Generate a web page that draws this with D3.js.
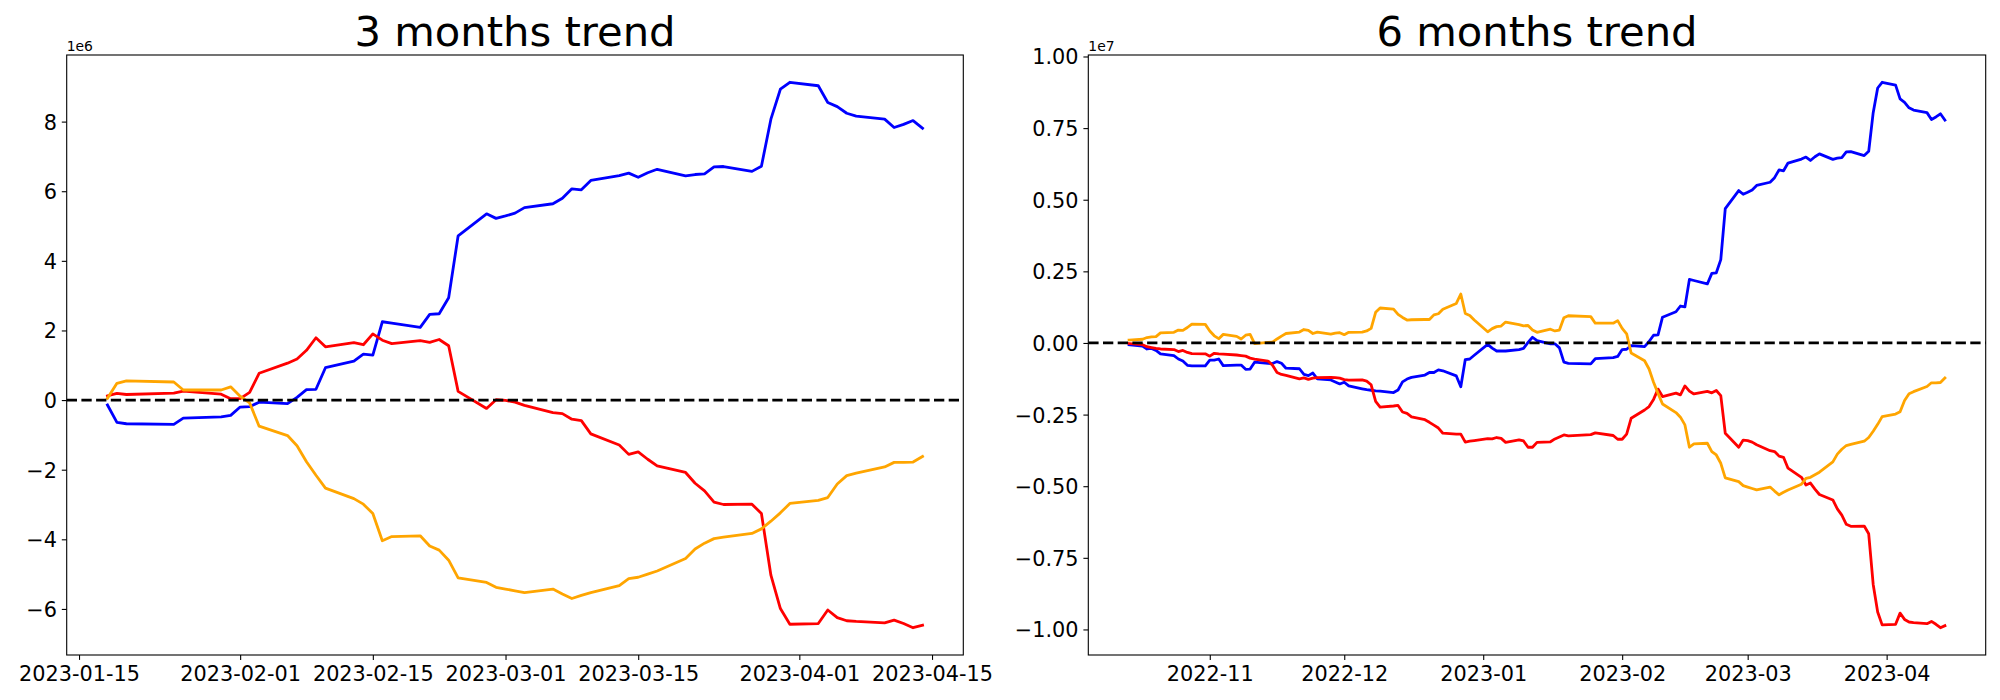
<!DOCTYPE html>
<html>
<head>
<meta charset="utf-8">
<script src="https://cdn.jsdelivr.net/npm/d3@7"></script>
<style>
body { margin: 0; background: #fff; }
text { font-family: "DejaVu Sans", sans-serif; fill: #000; }
</style>
</head>
<body>
<script>
// cumulative values, in millions

// 3 months panel
var leftDates = ['2023-01-18', '2023-01-19', '2023-01-20', '2023-01-25', '2023-01-26',
  '2023-01-30', '2023-01-31', '2023-02-01', '2023-02-02', '2023-02-03',
  '2023-02-06', '2023-02-07', '2023-02-08', '2023-02-09', '2023-02-10',
  '2023-02-13', '2023-02-14', '2023-02-15', '2023-02-16', '2023-02-17',
  '2023-02-20', '2023-02-21', '2023-02-22', '2023-02-23', '2023-02-24',
  '2023-02-27', '2023-02-28', '2023-03-01', '2023-03-02', '2023-03-03',
  '2023-03-06', '2023-03-07', '2023-03-08', '2023-03-09', '2023-03-10',
  '2023-03-13', '2023-03-14', '2023-03-15', '2023-03-16', '2023-03-17',
  '2023-03-20', '2023-03-21', '2023-03-22', '2023-03-23', '2023-03-24',
  '2023-03-27', '2023-03-28', '2023-03-29', '2023-03-30', '2023-03-31',
  '2023-04-03', '2023-04-04', '2023-04-05', '2023-04-06', '2023-04-07',
  '2023-04-10', '2023-04-11', '2023-04-12', '2023-04-13', '2023-04-14'];

var leftBlue = [-0.14, -0.64, -0.68, -0.70, -0.52, -0.48, -0.44, -0.20, -0.19, -0.06,
  -0.10, 0.08, 0.30, 0.31, 0.93, 1.12, 1.32, 1.29, 2.25, 2.21,
  2.09, 2.46, 2.48, 2.94, 4.72, 5.35, 5.22, 5.29, 5.37, 5.53,
  5.64, 5.80, 6.07, 6.04, 6.31, 6.45, 6.52, 6.40, 6.53, 6.63,
  6.44, 6.48, 6.50, 6.70, 6.71, 6.57, 6.72, 8.07, 8.93, 9.13,
  9.03, 8.55, 8.43, 8.24, 8.16, 8.07, 7.83, 7.92, 8.03, 7.81];

var leftRed = [0.12, 0.19, 0.16, 0.20, 0.26, 0.17, 0.04, 0.04, 0.22, 0.77,
  1.06, 1.18, 1.43, 1.79, 1.53, 1.65, 1.59, 1.90, 1.72, 1.62,
  1.71, 1.66, 1.74, 1.56, 0.25, -0.24, 0.01, -0.01, -0.06, -0.15,
  -0.36, -0.39, -0.55, -0.59, -0.97, -1.29, -1.56, -1.49, -1.70, -1.89,
  -2.08, -2.39, -2.61, -2.93, -3.00, -2.99, -3.26, -5.03, -5.99, -6.44,
  -6.42, -6.03, -6.25, -6.34, -6.36, -6.40, -6.32, -6.42, -6.54, -6.47];

var leftOrange = [0.05, 0.48, 0.55, 0.52, 0.29, 0.29, 0.38, 0.11, -0.08, -0.75,
  -1.02, -1.31, -1.77, -2.16, -2.53, -2.83, -2.99, -3.26, -4.04, -3.92,
  -3.90, -4.19, -4.31, -4.60, -5.11, -5.24, -5.38, -5.43, -5.48, -5.53,
  -5.43, -5.57, -5.70, -5.61, -5.53, -5.33, -5.13, -5.09, -5.00, -4.91,
  -4.55, -4.28, -4.11, -3.98, -3.94, -3.83, -3.70, -3.48, -3.24, -2.97,
  -2.88, -2.80, -2.41, -2.17, -2.10, -1.92, -1.79, -1.79, -1.78, -1.62];

// 6 months panel: the older days, then the same days as above
var oldDates = ['2022-10-14',
  '2022-10-17', '2022-10-18', '2022-10-19', '2022-10-20', '2022-10-21',
  '2022-10-24', '2022-10-25', '2022-10-26', '2022-10-27', '2022-10-28',
  '2022-10-31', '2022-11-01', '2022-11-02', '2022-11-03', '2022-11-04',
  '2022-11-07', '2022-11-08', '2022-11-09', '2022-11-10', '2022-11-11',
  '2022-11-14', '2022-11-15', '2022-11-16', '2022-11-17', '2022-11-18',
  '2022-11-21', '2022-11-22', '2022-11-23', '2022-11-24', '2022-11-25',
  '2022-11-28', '2022-11-29', '2022-11-30', '2022-12-01', '2022-12-02',
  '2022-12-05', '2022-12-06', '2022-12-07', '2022-12-08', '2022-12-09',
  '2022-12-12', '2022-12-13', '2022-12-14', '2022-12-15', '2022-12-16',
  '2022-12-19', '2022-12-20', '2022-12-21', '2022-12-22', '2022-12-23',
  '2022-12-26', '2022-12-27', '2022-12-28', '2022-12-29', '2022-12-30',
  '2023-01-02', '2023-01-03', '2023-01-04', '2023-01-05', '2023-01-06',
  '2023-01-09', '2023-01-10', '2023-01-11', '2023-01-12', '2023-01-13',
  '2023-01-16', '2023-01-17'];
var rightDates = oldDates.concat(leftDates);

var rightBlue = [-0.06,
  -0.11, -0.21, -0.19, -0.26, -0.38, -0.44, -0.56, -0.63, -0.78, -0.80,
  -0.80, -0.60, -0.60, -0.56, -0.79, -0.77, -0.77, -0.92, -0.91, -0.67,
  -0.71, -0.72, -0.65, -0.71, -0.88, -0.90, -1.10, -1.14, -1.05, -1.25,
  -1.29, -1.36, -1.43, -1.37, -1.50, -1.60, -1.63, -1.65, -1.67, -1.68,
  -1.73, -1.64, -1.36, -1.26, -1.20, -1.12, -1.03, -1.03, -0.94, -0.97,
  -1.15, -1.53, -0.58, -0.56, -0.43, -0.05, -0.18, -0.28, -0.28, -0.28,
  -0.23, -0.19, 0.02, 0.20, 0.08, -0.03, -0.03,
  -0.17, -0.67, -0.71, -0.73, -0.55, -0.51, -0.47, -0.23, -0.22, -0.09,
  -0.13, 0.05, 0.27, 0.28, 0.90, 1.09, 1.29, 1.26, 2.22, 2.18,
  2.06, 2.43, 2.45, 2.91, 4.69, 5.32, 5.19, 5.26, 5.34, 5.50,
  5.61, 5.77, 6.04, 6.01, 6.28, 6.42, 6.49, 6.37, 6.50, 6.60,
  6.41, 6.45, 6.47, 6.67, 6.68, 6.54, 6.69, 8.04, 8.90, 9.10,
  9.00, 8.52, 8.40, 8.21, 8.13, 8.04, 7.80, 7.89, 8.00, 7.78];

var rightRed = [-0.02,
  -0.06, -0.13, -0.16, -0.19, -0.21, -0.23, -0.30, -0.26, -0.33, -0.37,
  -0.38, -0.46, -0.36, -0.38, -0.39, -0.42, -0.44, -0.46, -0.53, -0.56,
  -0.63, -0.78, -1.03, -1.10, -1.13, -1.25, -1.22, -1.27, -1.23, -1.21,
  -1.20, -1.21, -1.23, -1.28, -1.30, -1.29, -1.33, -1.46, -2.04, -2.24,
  -2.20, -2.18, -2.41, -2.46, -2.58, -2.68, -2.77, -2.87, -2.97, -3.15,
  -3.18, -3.18, -3.46, -3.43, -3.41, -3.34, -3.35, -3.30, -3.33, -3.47,
  -3.38, -3.42, -3.64, -3.64, -3.47, -3.45, -3.35,
  -3.28, -3.21, -3.24, -3.20, -3.14, -3.23, -3.36, -3.36, -3.18, -2.63,
  -2.34, -2.22, -1.97, -1.61, -1.87, -1.75, -1.81, -1.50, -1.68, -1.78,
  -1.69, -1.74, -1.66, -1.84, -3.15, -3.64, -3.39, -3.41, -3.46, -3.55,
  -3.76, -3.79, -3.95, -3.99, -4.37, -4.69, -4.96, -4.89, -5.10, -5.29,
  -5.48, -5.79, -6.01, -6.33, -6.40, -6.39, -6.66, -8.43, -9.39, -9.84,
  -9.82, -9.43, -9.65, -9.74, -9.76, -9.80, -9.72, -9.82, -9.94, -9.87];

var rightOrange = [0.10,
  0.13, 0.19, 0.21, 0.22, 0.35, 0.37, 0.45, 0.44, 0.54, 0.66,
  0.65, 0.42, 0.25, 0.15, 0.30, 0.23, 0.14, 0.27, 0.30, -0.02,
  0.02, 0.03, 0.14, 0.24, 0.33, 0.38, 0.47, 0.44, 0.33, 0.38,
  0.31, 0.34, 0.36, 0.29, 0.37, 0.38, 0.42, 0.51, 1.07, 1.22,
  1.18, 1.00, 0.89, 0.80, 0.81, 0.82, 0.82, 0.98, 1.02, 1.18,
  1.38, 1.71, 1.03, 0.96, 0.80, 0.39, 0.50, 0.57, 0.59, 0.73,
  0.64, 0.60, 0.61, 0.45, 0.37, 0.48, 0.42,
  0.45, 0.88, 0.95, 0.92, 0.69, 0.69, 0.78, 0.51, 0.32, -0.35,
  -0.62, -0.91, -1.37, -1.76, -2.13, -2.43, -2.59, -2.86, -3.64, -3.52,
  -3.50, -3.79, -3.91, -4.20, -4.71, -4.84, -4.98, -5.03, -5.08, -5.13,
  -5.03, -5.17, -5.30, -5.21, -5.13, -4.93, -4.73, -4.69, -4.60, -4.51,
  -4.15, -3.88, -3.71, -3.58, -3.54, -3.43, -3.30, -3.08, -2.84, -2.57,
  -2.48, -2.40, -2.01, -1.77, -1.70, -1.52, -1.39, -1.39, -1.38, -1.22];

// ticks
var leftXTicks = ['2023-01-15', '2023-02-01', '2023-02-15', '2023-03-01', '2023-03-15', '2023-04-01', '2023-04-15'];
var rightXTicks = ['2022-11-01', '2022-12-01', '2023-01-01', '2023-02-01', '2023-03-01', '2023-04-01'];
var leftYTicks = [-6, -4, -2, 0, 2, 4, 6, 8];             // x 1e6
var rightYTicks = [-1, -0.75, -0.5, -0.25, 0, 0.25, 0.5, 0.75, 1]; // x 1e7

var parse = d3.timeParse('%Y-%m-%d');

var svg = d3.select('body').append('svg')
            .attr('width', 2000)
            .attr('height', 700)
            .style('background', '#fff');

var plotTop = 55, plotBottom = 655;

function panel(cfg) {
  var dates = cfg.dates.map(parse);
  var ext = d3.extent(cfg.blue.concat(cfg.red, cfg.orange));
  var pad = (ext[1] - ext[0]) * 0.05;
  var tx = d3.extent(dates);
  var tpad = (tx[1] - tx[0]) * 0.05;

  var x = d3.scaleTime()
            .domain([new Date(+tx[0] - tpad), new Date(+tx[1] + tpad)])
            .range([cfg.left, cfg.right]);
  var y = d3.scaleLinear()
            .domain([ext[0] - pad, ext[1] + pad])
            .range([plotBottom, plotTop]);

  var g = svg.append('g');

  var line = d3.line()
               .x(function(d) { return x(d[0]); })
               .y(function(d) { return y(d[1]); });

  [[cfg.blue, 'blue'], [cfg.red, 'red'], [cfg.orange, 'orange']].forEach(function(s) {
    g.append('path')
     .datum(dates.map(function(d, i) { return [d, s[0][i]]; }))
     .attr('d', line)
     .style('fill', 'none')
     .style('stroke', s[1])
     .style('stroke-width', 2.8)
     .style('stroke-linejoin', 'round')
     .style('stroke-linecap', 'square');
  });

  // zero line
  g.append('line')
   .attr('x1', cfg.left)
   .attr('x2', cfg.right)
   .attr('y1', y(0))
   .attr('y2', y(0))
   .style('stroke', 'black')
   .style('stroke-width', 2.8)
   .style('stroke-dasharray', '10.3,4.4');

  var xAxis = g.append('g')
               .attr('transform', 'translate(0,' + plotBottom + ')')
               .call(d3.axisBottom(x)
                       .tickValues(cfg.xTicks.map(parse))
                       .tickFormat(d3.timeFormat(cfg.xFormat))
                       .tickSize(4.9)
                       .tickPadding(4.9));

  var yAxis = g.append('g')
               .attr('transform', 'translate(' + cfg.left + ',0)')
               .call(d3.axisLeft(y)
                       .tickValues(cfg.yTicks.map(function(t) { return t * cfg.unit; }))
                       .tickFormat(function(v) { return cfg.yFormat(v / cfg.unit); })
                       .tickSize(4.9)
                       .tickPadding(4.9));

  [xAxis, yAxis].forEach(function(a) {
    a.select('.domain').remove();
    a.selectAll('line').style('stroke', 'black').style('stroke-width', 1.1);
    a.selectAll('text')
     .attr('font-family', '"DejaVu Sans", sans-serif')
     .style('font-size', '20.8px')
     .style('fill', 'black');
  });
  xAxis.selectAll('text').attr('dy', '0.78em');
  yAxis.selectAll('text').attr('dy', '0.36em');

  g.append('rect')
   .attr('x', cfg.left)
   .attr('y', plotTop)
   .attr('width', cfg.right - cfg.left)
   .attr('height', plotBottom - plotTop)
   .style('fill', 'none')
   .style('stroke', 'black')
   .style('stroke-width', 1.1);

  g.append('text')
   .attr('x', cfg.left)
   .attr('y', 50.5)
   .style('font-size', '13.9px')
   .text(cfg.offset);

  g.append('text')
   .attr('x', (cfg.left + cfg.right) / 2)
   .attr('y', 46)
   .attr('text-anchor', 'middle')
   .style('font-size', '41.7px')
   .text(cfg.title);
}

panel({
  title: '3 months trend', left: 66.7, right: 963.3,
  dates: leftDates, blue: leftBlue, red: leftRed, orange: leftOrange,
  xTicks: leftXTicks, xFormat: '%Y-%m-%d',
  yTicks: leftYTicks, unit: 1, yFormat: d3.format('d'), offset: '1e6'
});

panel({
  title: '6 months trend', left: 1088.3, right: 1985.7,
  dates: rightDates, blue: rightBlue, red: rightRed, orange: rightOrange,
  xTicks: rightXTicks, xFormat: '%Y-%m',
  yTicks: rightYTicks, unit: 10, yFormat: d3.format('.2f'), offset: '1e7'
});
</script>
</body>
</html>
